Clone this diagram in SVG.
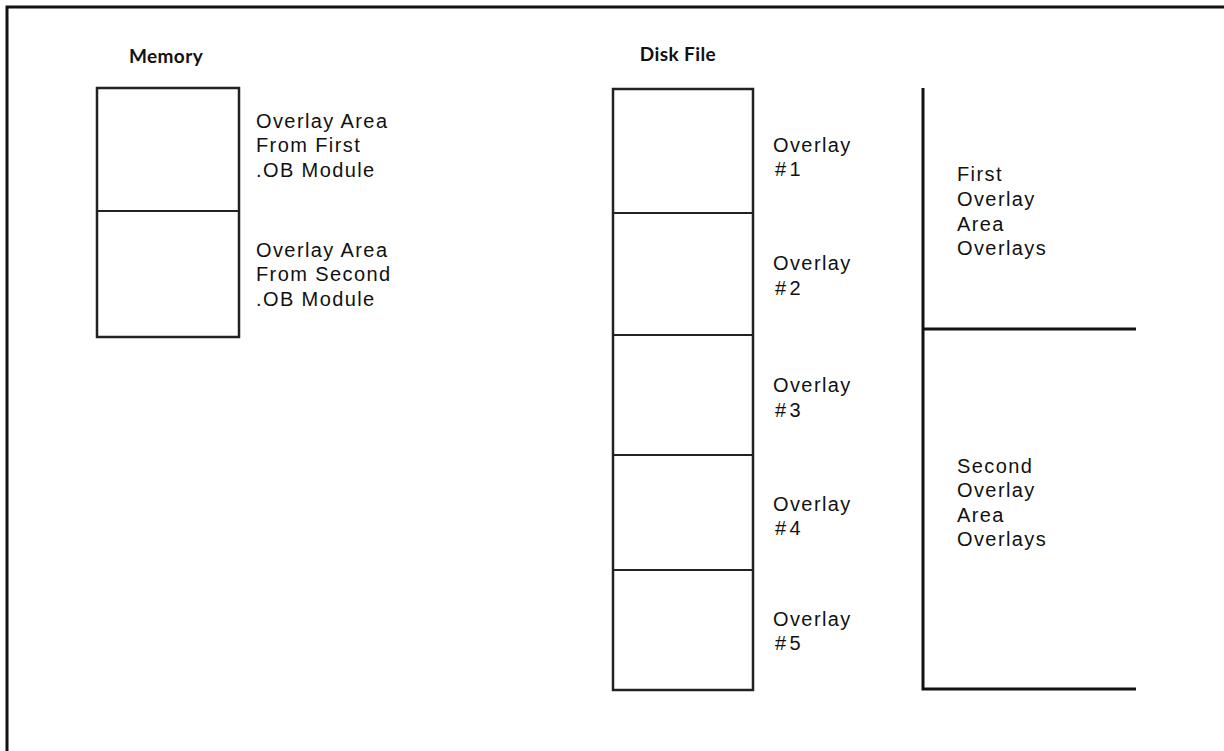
<svg xmlns="http://www.w3.org/2000/svg" width="1224" height="751" viewBox="0 0 1224 751">
<style>
.title{font-family:Lato,"Liberation Sans",sans-serif;font-weight:bold;font-size:19px;letter-spacing:0.4px;fill:#111}
.lbl{font-family:"Liberation Sans",Arial,sans-serif;font-size:20px;letter-spacing:1.4px;fill:#111}
.box{fill:none;stroke:#222;stroke-width:2.5}
.div{stroke:#222;stroke-width:2}
.ln{stroke:#111;stroke-width:3;fill:none}
</style>
<rect width="1224" height="751" fill="#fff"/>
<g id="frame">
<path class="ln" d="M7,751 V7 H1224"/>
</g>
<g id="memory">
<text class="title" x="166" y="63" text-anchor="middle">Memory</text>
<rect class="box" x="97" y="88" width="142" height="249"/>
<line class="div" x1="97" y1="211" x2="239" y2="211"/>
</g>
<g id="memory-labels">
<text class="lbl" x="256" y="128">Overlay Area</text>
<text class="lbl" x="256" y="152">From First</text>
<text class="lbl" x="256" y="177">.OB Module</text>
<text class="lbl" x="256" y="257">Overlay Area</text>
<text class="lbl" x="256" y="281">From Second</text>
<text class="lbl" x="256" y="306">.OB Module</text>
</g>
<g id="disk">
<text class="title" x="678" y="61" text-anchor="middle">Disk File</text>
<rect class="box" x="613" y="89" width="140" height="601"/>
<line class="div" x1="613" y1="213" x2="753" y2="213"/>
<line class="div" x1="613" y1="335" x2="753" y2="335"/>
<line class="div" x1="613" y1="455" x2="753" y2="455"/>
<line class="div" x1="613" y1="570" x2="753" y2="570"/>
</g>
<g id="disk-labels">
<text class="lbl" x="773" y="152">Overlay</text>
<text class="lbl" x="775" y="176">#<tspan dx="2">1</tspan></text>
<text class="lbl" x="773" y="270">Overlay</text>
<text class="lbl" x="775" y="295">#<tspan dx="2">2</tspan></text>
<text class="lbl" x="773" y="392">Overlay</text>
<text class="lbl" x="775" y="417">#<tspan dx="2">3</tspan></text>
<text class="lbl" x="773" y="511">Overlay</text>
<text class="lbl" x="775" y="535">#<tspan dx="2">4</tspan></text>
<text class="lbl" x="773" y="626">Overlay</text>
<text class="lbl" x="775" y="650">#<tspan dx="2">5</tspan></text>
</g>
<g id="connectors">
<path class="ln" d="M923,88 V689 H1136"/>
<line class="ln" x1="923" y1="329" x2="1136" y2="329"/>
</g>
<g id="group-labels">
<text class="lbl" x="957" y="181">First</text>
<text class="lbl" x="957" y="206">Overlay</text>
<text class="lbl" x="957" y="231">Area</text>
<text class="lbl" x="957" y="255">Overlays</text>
<text class="lbl" x="957" y="473">Second</text>
<text class="lbl" x="957" y="497">Overlay</text>
<text class="lbl" x="957" y="522">Area</text>
<text class="lbl" x="957" y="546">Overlays</text>
</g>
</svg>
